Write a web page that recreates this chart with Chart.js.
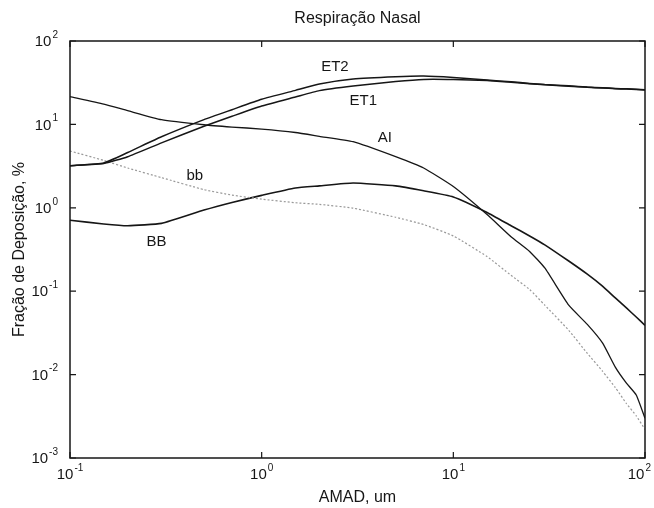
<!DOCTYPE html>
<html>
<head>
<meta charset="utf-8">
<script src="https://cdn.jsdelivr.net/npm/chart.js@4.4.0/dist/chart.umd.min.js"></script>
<style>
  html, body { margin: 0; padding: 0; background: #fff; }
  #wrap { width: 654px; height: 508px; }
</style>
</head>
<body>
<div id="wrap"><canvas id="chart"></canvas></div>
<script>
// AMAD (um), shared x grid for all curves
const amad = [0.1, 0.15, 0.2, 0.3, 0.5, 0.7, 1, 1.5, 2, 3, 5, 7, 10, 15, 20, 25, 30, 40, 50, 60, 70, 80, 90, 100];

// deposition fraction, %
const et2 = [3.2, 3.45, 4.6, 7.1, 11.4, 15, 20, 25.6, 30.5, 35, 37.3, 38, 36.5, 34, 32.5, 31, 30, 29, 28, 27.5, 27, 26.7, 26.4, 26];
const et1 = [3.2, 3.4, 4.1, 6.0, 9.5, 12.5, 16.6, 21.3, 25.4, 28.8, 32.6, 34.6, 34.5, 33.5, 32, 30.8, 29.8, 28.7, 27.8, 27.3, 26.8, 26.5, 26.2, 25.9];
const ai  = [21.5, 17.5, 14.6, 11.4, 9.9, 9.3, 8.8, 8.0, 7.2, 6.2, 4.1, 3.0, 1.8, 0.83, 0.45, 0.30, 0.19, 0.068, 0.040, 0.024, 0.0123, 0.0079, 0.0057, 0.003];
const bbs = [4.8, 3.7, 3.0, 2.3, 1.65, 1.42, 1.27, 1.15, 1.1, 0.99, 0.77, 0.63, 0.46, 0.26, 0.155, 0.105, 0.068, 0.034, 0.018, 0.011, 0.007, 0.0045, 0.0032, 0.0022];
const bbb = [0.71, 0.64, 0.61, 0.65, 0.94, 1.16, 1.41, 1.73, 1.83, 1.98, 1.83, 1.6, 1.35, 0.88, 0.61, 0.46, 0.36, 0.23, 0.16, 0.115, 0.083, 0.063, 0.049, 0.039];

// curve names written on the plot, anchored in data units
const curveLabels = [
  { text: 'ET2', x: 2.41, y: 49 },
  { text: 'ET1', x: 3.39, y: 19.4 },
  { text: 'AI',  x: 4.39, y: 6.84 },
  { text: 'bb',  x: 0.448, y: 2.44 },
  { text: 'BB',  x: 0.283, y: 0.389 }
];

const xDecades = [-1, 0, 1, 2];
const yDecades = [-3, -2, -1, 0, 1, 2];

const FONT = '"Liberation Sans", Arial, Helvetica, sans-serif';
const INK = '#161616';

function pts(values) {
  return amad.map((a, i) => ({ x: a, y: values[i] }));
}

function drawPower(ctx, exp, x, y, align, maxRight) {
  const base = '10', sup = String(exp);
  ctx.font = '15px ' + FONT;
  const wb = ctx.measureText(base).width;
  ctx.font = '10px ' + FONT;
  const ws = ctx.measureText(sup).width;
  const total = wb + ws + 1;
  let x0 = align === 'center' ? x - total / 2 : x - total;
  if (maxRight && x0 + total > maxRight) x0 = maxRight - total;
  ctx.textAlign = 'left';
  ctx.textBaseline = 'middle';
  ctx.font = '15px ' + FONT;
  ctx.fillText(base, x0, y);
  ctx.font = '10px ' + FONT;
  ctx.fillText(sup, x0 + wb + 1, y - 7);
}

// box, inward ticks, power-of-ten labels and curve names
const matlabAxes = {
  id: 'matlabAxes',
  afterDatasetsDraw(chart) {
    const { ctx, chartArea: a, scales: { x, y } } = chart;
    ctx.save();
    ctx.strokeStyle = INK;
    ctx.lineWidth = 1.5;
    ctx.strokeRect(a.left, a.top, a.right - a.left, a.bottom - a.top);

    ctx.lineWidth = 1.2;
    ctx.beginPath();
    xDecades.forEach(e => {
      const px = x.getPixelForValue(Math.pow(10, e));
      ctx.moveTo(px, a.bottom); ctx.lineTo(px, a.bottom - 6);
      ctx.moveTo(px, a.top); ctx.lineTo(px, a.top + 6);
    });
    yDecades.forEach(e => {
      const py = y.getPixelForValue(Math.pow(10, e));
      ctx.moveTo(a.left, py); ctx.lineTo(a.left + 6, py);
      ctx.moveTo(a.right, py); ctx.lineTo(a.right - 6, py);
    });
    ctx.stroke();

    ctx.fillStyle = INK;
    xDecades.forEach(e => {
      drawPower(ctx, e, x.getPixelForValue(Math.pow(10, e)), a.bottom + 17, 'center', chart.width - 3);
    });
    yDecades.forEach(e => {
      drawPower(ctx, e, a.left - 12, y.getPixelForValue(Math.pow(10, e)) + 1, 'right');
    });

    ctx.font = '15px ' + FONT;
    ctx.textAlign = 'center';
    ctx.textBaseline = 'middle';
    curveLabels.forEach(l => {
      ctx.fillText(l.text, x.getPixelForValue(l.x), y.getPixelForValue(l.y));
    });
    ctx.restore();
  }
};

function line(label, values, color, width, dash) {
  return {
    label: label,
    data: pts(values),
    borderColor: color,
    borderWidth: width,
    borderDash: dash || [],
    pointRadius: 0,
    fill: false,
    tension: 0.15
  };
}

new Chart(document.getElementById('chart'), {
  type: 'line',
  data: {
    datasets: [
      line('ET2', et2, INK, 1.5),
      line('ET1', et1, INK, 1.5),
      line('AI', ai, INK, 1.3),
      line('bb', bbs, '#999999', 1.2, [2, 2]),
      line('BB', bbb, INK, 1.6)
    ]
  },
  options: {
    responsive: true,
    maintainAspectRatio: false,
    animation: false,
    layout: { padding: { left: 0, right: 9, top: 0, bottom: 0 } },
    plugins: {
      legend: { display: false },
      tooltip: { enabled: false },
      title: {
        display: true,
        fullSize: false,
        text: 'Respiração Nasal',
        color: INK,
        font: { family: FONT, size: 16, weight: 'normal' },
        padding: { top: 9, bottom: 12.8 }
      }
    },
    scales: {
      x: {
        type: 'logarithmic',
        min: 0.1,
        max: 100,
        grid: { display: false },
        border: { display: false },
        ticks: { display: false },
        title: {
          display: true,
          text: 'AMAD, um',
          color: INK,
          font: { family: FONT, size: 16 },
          padding: { top: 0, bottom: 1 }
        },
        afterFit(scale) { scale.height = 50; }
      },
      y: {
        type: 'logarithmic',
        min: 0.001,
        max: 100,
        grid: { display: false },
        border: { display: false },
        ticks: { display: false },
        title: {
          display: true,
          text: 'Fração de Deposição, %',
          color: INK,
          font: { family: FONT, size: 16 },
          padding: { top: 10, bottom: 0 }
        },
        afterFit(scale) { scale.width = 70; }
      }
    }
  },
  plugins: [matlabAxes]
});
</script>
</body>
</html>
